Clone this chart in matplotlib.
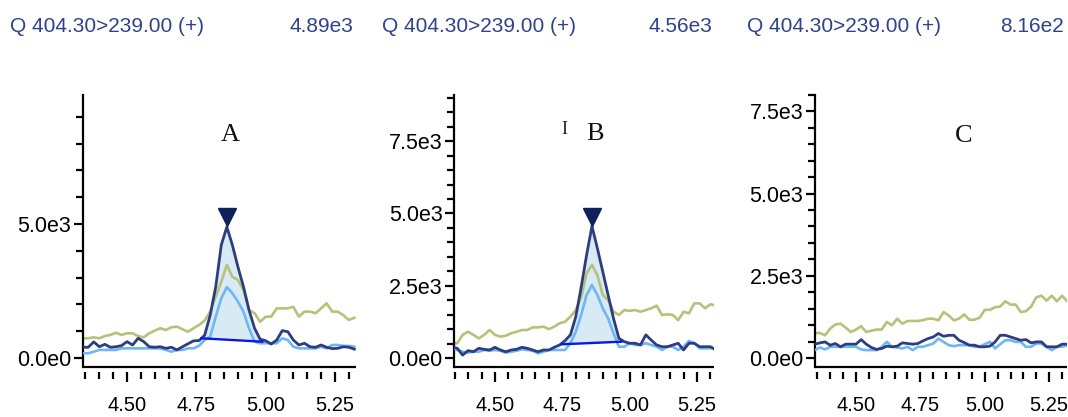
import matplotlib
matplotlib.use("Agg")
import matplotlib.pyplot as plt
import matplotlib.transforms as mtransforms
from matplotlib.ticker import FixedLocator, MultipleLocator
import numpy as np

plt.rcParams['font.family'] = ['Liberation Sans', 'DejaVu Sans']

# ---------------- data ----------------
TIME = [4.34, 4.36, 4.38, 4.40, 4.42, 4.44, 4.46, 4.48, 4.50, 4.52,
        4.54, 4.56, 4.58, 4.60, 4.62, 4.64, 4.66, 4.68, 4.70, 4.72,
        4.74, 4.76, 4.78, 4.80, 4.82, 4.84, 4.86, 4.88, 4.90, 4.92,
        4.94, 4.96, 4.98, 5.00, 5.02, 5.04, 5.06, 5.08, 5.10, 5.12,
        5.14, 5.16, 5.18, 5.20, 5.22, 5.24, 5.26, 5.28, 5.30, 5.32]

A_quant = [400, 400, 600, 420, 510, 400, 420, 460, 610, 485,
           735, 610, 420, 400, 420, 360, 400, 300, 420, 530,
           640, 650, 850, 1600, 2660, 4215, 4890, 4215, 3400, 2660,
           1790, 1110, 700, 645, 520, 670, 1020, 980, 670, 485,
           550, 420, 400, 485, 400, 350, 360, 420, 400, 330]
A_qual1 = [735, 735, 770, 735, 820, 860, 945, 860, 920, 920,
           820, 770, 920, 1020, 1110, 1045, 1145, 1170, 1070, 980,
           1110, 1230, 1400, 1730, 2290, 2850, 3470, 3030, 2910, 2540,
           1790, 1670, 1350, 1540, 1540, 1850, 1850, 1850, 1910, 1540,
           1730, 1730, 1670, 1850, 2040, 1730, 1730, 1600, 1420, 1500]
A_qual2 = [175, 175, 235, 300, 300, 300, 300, 360, 360, 360,
           360, 360, 360, 360, 360, 300, 235, 300, 300, 360,
           360, 460, 670, 795, 1540, 2225, 2640, 2415, 2100, 1730,
           1110, 610, 550, 550, 550, 550, 735, 670, 420, 360,
           360, 360, 360, 420, 360, 485, 485, 450, 450, 420]

B_quant = [390, 335, 100, 255, 218, 335, 300, 277, 370, 277,
           218, 277, 300, 370, 335, 277, 218, 277, 277, 370,
           450, 600, 800, 1430, 2450, 3560, 4560, 3800, 2990, 2180,
           1370, 680, 565, 510, 510, 450, 800, 620, 450, 390,
           390, 450, 510, 277, 510, 510, 390, 390, 390, 277]
B_qual1 = [510, 510, 800, 910, 800, 680, 800, 970, 800, 740,
           770, 855, 910, 970, 970, 1060, 1060, 1085, 1000, 1085,
           1200, 1255, 1430, 1660, 2100, 2930, 3220, 2870, 2180, 2010,
           1600, 1490, 1660, 1630, 1660, 1600, 1660, 1720, 1810, 1490,
           1510, 1490, 1310, 1600, 1545, 1890, 1890, 1720, 1860, 1810]
B_qual2 = [390, 277, 218, 185, 218, 218, 277, 250, 277, 250,
           185, 218, 250, 300, 277, 250, 160, 218, 277, 277,
           277, 277, 510, 910, 1490, 2180, 2525, 2180, 1720, 1370,
           855, 390, 390, 510, 450, 450, 510, 450, 390, 277,
           390, 390, 277, 390, 590, 510, 335, 335, 335, 335]

C_quant = [420, 460, 490, 390, 440, 340, 420, 420, 420, 560,
           420, 320, 260, 290, 360, 340, 360, 460, 440, 420,
           440, 520, 590, 640, 745, 660, 690, 690, 540, 470,
           390, 390, 340, 340, 360, 490, 690, 690, 640, 590,
           540, 560, 460, 490, 490, 340, 340, 340, 420, 420]
C_qual1 = [760, 760, 690, 895, 1020, 1045, 925, 790, 865, 965,
           790, 830, 865, 865, 1095, 995, 1195, 1045, 1125, 1125,
           1125, 1150, 1195, 1195, 1145, 1395, 1295, 1145, 1195, 1325,
           1165, 1165, 1225, 1465, 1465, 1545, 1565, 1725, 1625, 1625,
           1395, 1425, 1565, 1845, 1895, 1745, 1895, 1725, 1895, 1725]
C_qual2 = [240, 320, 260, 340, 340, 340, 340, 340, 340, 260,
           240, 240, 240, 340, 490, 340, 320, 290, 340, 240,
           340, 340, 390, 440, 590, 490, 390, 360, 390, 390,
           390, 340, 340, 420, 490, 290, 420, 540, 540, 490,
           490, 340, 340, 440, 440, 340, 240, 340, 340, 390]

HEADER = "Q 404.30>239.00 (+)"
INTENSITY = ["4.89e3", "4.56e3", "8.16e2"]
PANEL_LABELS = ["A", "B", "C"]
# integration baselines: (start time, start value, end time, end value)
A_base = [4.768, 735, 4.988, 608]
B_base = [4.748, 474, 4.969, 564]
A_apex = [4.86, 4890]
B_apex = [4.86, 4560]

X_MAJOR = [4.50, 4.75, 5.00, 5.25]
X_LABELS = ["4.50", "4.75", "5.00", "5.25"]

# ---------------- styling ----------------
NAVY = '#2d3d80'
LIGHT = '#6db6f7'
GREEN = '#b4c379'
FILL = '#d8eaf4'
BASE = '#0b16e8'
APEX = '#0e2158'
HEAD = '#2e4290'

W, H = 1068, 417
fig = plt.figure(figsize=(W / 100, H / 100), dpi=100)

def px_rect(l, r, t, b):
    return [l / W, 1 - b / H, (r - l) / W, (b - t) / H]

panels = [
    dict(rect=px_rect(82.7, 356, 95, 366.7), ylim=(-325, 9810), major=[0, 5000],
         mlabels=["0.0e0", "5.0e3"], minor=1000, xlim=(4.340, 5.326),
         data=(A_quant, A_qual1, A_qual2), base=A_base, apex=A_apex,
         hx=(10, 353.5)),
    dict(rect=px_rect(454.3, 714, 95, 366.7), ylim=(-301, 9100), major=[0, 2500, 5000, 7500],
         mlabels=["0.0e0", "2.5e3", "5.0e3", "7.5e3"], minor=500, xlim=(4.349, 5.313),
         data=(B_quant, B_qual1, B_qual2), base=B_base, apex=B_apex,
         hx=(382, 712.5)),
    dict(rect=px_rect(815, 1066.7, 95, 366.7), ylim=(-265, 8000), major=[0, 2500, 5000, 7500],
         mlabels=["0.0e0", "2.5e3", "5.0e3", "7.5e3"], minor=500, xlim=(4.341, 5.318),
         data=(C_quant, C_qual1, C_qual2), base=None, apex=None,
         hx=(747, 1064)),
]

label_px = [(230, 135), (595, 133.5), (963.5, 136.5)]

t = np.array(TIME)
for i, p in enumerate(panels):
    ax = fig.add_axes(p['rect'])
    quant, q1, q2 = [np.array(v, dtype=float) for v in p['data']]
    ax.set_xlim(*p['xlim'])
    ax.set_ylim(*p['ylim'])

    if p['base'] is not None:
        t0, v0, t1, v1 = p['base']
        m = (t > t0) & (t < t1)
        tt = np.concatenate([[t0], t[m], [t1]])
        yy = np.concatenate([[v0], quant[m], [v1]])
        bb = np.interp(tt, [t0, t1], [v0, v1])
        ax.fill_between(tt, bb, yy, color=FILL, lw=0, zorder=1)

    ax.plot(t, q1, color=GREEN, lw=1.9, zorder=2)
    ax.plot(t, q2, color=LIGHT, lw=1.9, zorder=3)
    ax.plot(t, quant, color=NAVY, lw=2.0, zorder=4)

    if p['base'] is not None:
        t0, v0, t1, v1 = p['base']
        ax.plot([t0, t1], [v0, v1], color=BASE, lw=1.7, zorder=5)

    if p['apex'] is not None:
        tr = mtransforms.offset_copy(ax.transData, fig=fig, y=9.5, units='dots')
        ax.plot([p['apex'][0]], [p['apex'][1]], marker='v', ms=13, color=APEX,
                mec=APEX, transform=tr, zorder=6, clip_on=False)

    # spines
    for s in ['top', 'right']:
        ax.spines[s].set_visible(False)
    ax.spines['left'].set_linewidth(1.6)
    ax.spines['left'].set_color('black')
    ax.spines['bottom'].set_position(('outward', 3.6))
    ax.spines['bottom'].set_color('none')
    ax.plot([0, 1], [0, 0], transform=ax.transAxes, color='black', lw=1.6,
            clip_on=False, zorder=7, solid_capstyle='butt')

    # y ticks
    ax.yaxis.set_major_locator(FixedLocator(p['major']))
    ax.set_yticklabels(p['mlabels'])
    ax.yaxis.set_minor_locator(MultipleLocator(p['minor']))
    ax.tick_params(axis='y', which='major', length=6.5, width=1.6, pad=2,
                   labelsize=15.5, colors='black')
    ax.tick_params(axis='y', which='minor', length=5, width=1.6)

    # x ticks
    ax.xaxis.set_major_locator(FixedLocator(X_MAJOR))
    ax.set_xticklabels(X_LABELS)
    ax.xaxis.set_minor_locator(MultipleLocator(0.05))
    ax.tick_params(axis='x', which='major', length=7.2, width=1.6, pad=10.5,
                   labelsize=14.5, colors='black')
    ax.tick_params(axis='x', which='minor', length=4.8, width=1.6)

    # header
    fig.text(p['hx'][0] / W, 1 - 31.5 / H, HEADER, color=HEAD, fontsize=15,
             ha='left', va='baseline')
    fig.text(p['hx'][1] / W, 1 - 31.5 / H, INTENSITY[i], color=HEAD, fontsize=15,
             ha='right', va='baseline')

    lx, ly = label_px[i]
    fig.text(lx / W, 1 - ly / H, PANEL_LABELS[i], fontsize=19, ha='center',
             va='center', family=['Liberation Serif', 'DejaVu Serif'], color='#111111')

# stray partially hidden glyph next to B
fig.text(564.5 / W, 1 - 129 / H, "I", fontsize=13, ha='center', va='center',
         family=['Liberation Serif', 'DejaVu Serif'], color='#222222')

fig.savefig("out.png", dpi=100)
